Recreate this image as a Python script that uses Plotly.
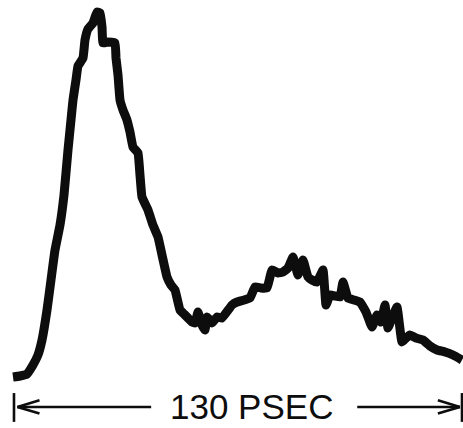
import plotly.graph_objects as go

# Time axis (psec) and relative intensity (peak = 100)
time_ps = [-0.29, 1.74, 3.77, 5.51, 6.96, 8.13, 9.58, 10.74, 11.90, 13.35,
           14.51, 15.67, 16.54, 17.12, 17.99, 18.57, 20.02, 20.60, 21.47, 22.92,
           24.08, 24.96, 25.54, 25.83, 27.28, 29.31, 29.60, 30.18, 30.76, 31.63,
           32.79, 33.66, 34.53, 35.98, 36.56, 37.14, 38.88, 40.33, 41.79, 42.95,
           44.40, 45.56, 46.72, 48.17, 49.33, 50.49, 51.65, 52.52, 53.39, 54.55,
           55.42, 56.00, 57.46, 58.91, 60.36, 63.26, 64.71, 66.74, 68.48, 69.93,
           71.67, 73.42, 74.87, 76.61, 78.06, 79.51, 80.96, 82.41, 83.86, 85.31,
           86.47, 87.92, 89.67, 90.54, 91.70, 93.15, 94.60, 95.47, 96.92, 98.66,
           100.40, 102.14, 103.88, 105.33, 106.49, 107.65, 108.52, 109.69, 111.14, 112.59,
           113.75, 114.91, 116.65, 118.68, 120.71, 122.75, 125.07, 127.39, 130.00]
intensity = [0.0, 0.27, 0.82, 3.29, 6.03, 10.14, 18.36, 26.58, 34.79, 41.64,
             49.86, 62.19, 70.41, 75.89, 81.37, 85.21, 87.40, 92.33, 95.34, 96.99,
             100.0, 99.73, 95.89, 91.51, 91.78, 91.51, 87.40, 82.74, 75.89, 73.15,
             70.41, 67.12, 63.01, 61.37, 55.34, 49.32, 45.75, 41.64, 38.36, 33.42,
             27.40, 25.21, 23.84, 18.36, 17.26, 16.16, 15.07, 14.79, 17.81, 14.25,
             12.88, 16.44, 14.79, 16.44, 16.16, 19.73, 20.55, 21.10, 21.64, 24.66,
             24.38, 24.38, 29.32, 28.49, 28.77, 29.86, 32.88, 27.95, 32.05, 27.40,
             26.58, 26.03, 29.32, 19.73, 22.47, 22.19, 21.92, 26.03, 21.64, 21.10,
             20.55, 17.81, 13.70, 16.99, 15.07, 19.73, 13.42, 16.16, 19.18, 9.59,
             10.68, 11.51, 10.68, 10.14, 8.49, 7.40, 6.85, 6.03, 4.66]

# Scale bar
scale_start = 0.0
scale_length = 130.0
scale_label = "130 PSEC"

ink = "#0d0d0d"

fig = go.Figure()
fig.add_trace(go.Scatter(x=time_ps, y=intensity, mode="lines",
                         line=dict(color=ink, width=9, shape="spline", smoothing=0.3),
                         hoverinfo="skip"))

scale_end = scale_start + scale_length
bar_y = -8.2
tick_top, tick_bot = -4.4, -12.3
head_dx, head_dy = 6.4, 1.8
label_x = 69.0
gap_left, gap_right = 45.8, 99.6

shapes = []
def seg(x0, y0, x1, y1, w=2.6):
    shapes.append(dict(type="line", xref="x", yref="y", x0=x0, y0=y0, x1=x1, y1=y1,
                       line=dict(color=ink, width=w)))

# end ticks
seg(scale_start, tick_top, scale_start, tick_bot)
seg(scale_end, tick_top, scale_end, tick_bot)
# bar pieces
seg(scale_start + 1.0, bar_y, gap_left - 6.0 + scale_start, bar_y)
seg(gap_right, bar_y, scale_end - 0.6, bar_y)
# arrowheads
seg(scale_start + 1.0, bar_y, scale_start + 1.0 + head_dx, bar_y + head_dy)
seg(scale_start + 1.0, bar_y, scale_start + 1.0 + head_dx, bar_y - head_dy)
seg(scale_end - 0.6, bar_y, scale_end - 0.6 - head_dx, bar_y + head_dy)
seg(scale_end - 0.6, bar_y, scale_end - 0.6 - head_dx, bar_y - head_dy)

fig.update_layout(
    width=463, height=428,
    margin=dict(l=0, r=0, t=0, b=0),
    paper_bgcolor="white", plot_bgcolor="white",
    showlegend=False,
    shapes=shapes,
    annotations=[dict(x=label_x, y=bar_y, xref="x", yref="y", text=scale_label,
                      showarrow=False, xanchor="center", yanchor="middle",
                      font=dict(family="Liberation Sans", size=35, color=ink))],
    xaxis=dict(range=[-4.06, 130.29], visible=False, fixedrange=True),
    yaxis=dict(range=[-13.97, 103.29], visible=False, fixedrange=True),
)

fig.write_html("out.html")
